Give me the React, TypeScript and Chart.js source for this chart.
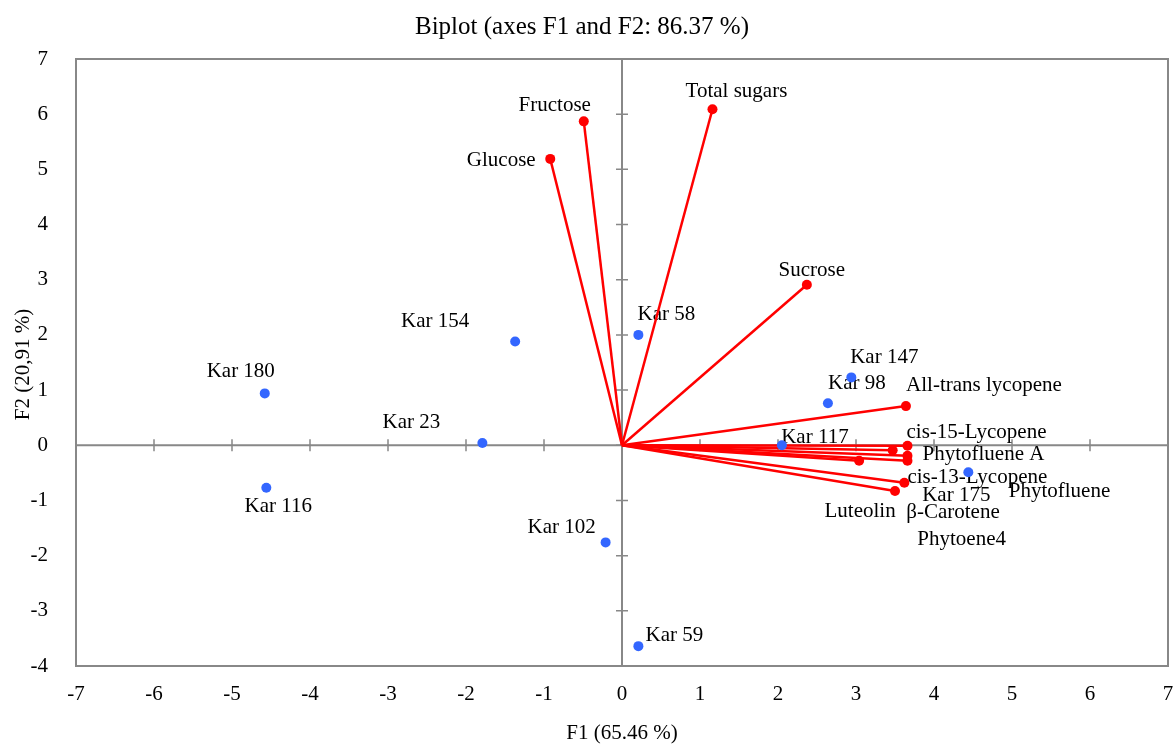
import React, { useEffect, useRef } from 'react';
import { Chart, registerables } from 'chart.js';

Chart.register(...registerables);

// Observations (blue points)
const obsNames = ['Kar 180', 'Kar 116', 'Kar 154', 'Kar 23', 'Kar 58', 'Kar 102', 'Kar 59', 'Kar 147', 'Kar 98', 'Kar 117', 'Kar 175'];
const obsF1 = [-4.58, -4.56, -1.37, -1.79, 0.21, -0.21, 0.21, 2.94, 2.64, 2.05, 4.44];
const obsF2 = [0.94, -0.77, 1.88, 0.04, 2.0, -1.76, -3.64, 1.23, 0.76, 0.0, -0.49];

// Variables (red vectors)
const varNames = ['Glucose', 'Fructose', 'Total sugars', 'Sucrose', 'All-trans lycopene', 'cis-15-Lycopene', 'Phytofluene A', 'Phytofluene', 'Phytoene4', 'Luteolin', 'cis-13-Lycopene', 'β-Carotene'];
const varF1 = [-0.92, -0.49, 1.16, 2.37, 3.64, 3.66, 3.66, 3.66, 3.47, 3.04, 3.62, 3.5];
const varF2 = [5.19, 5.87, 6.09, 2.91, 0.71, -0.01, -0.19, -0.28, -0.09, -0.28, -0.68, -0.83];

// Axis ticks
const xTickValues = [-7, -6, -5, -4, -3, -2, -1, 0, 1, 2, 3, 4, 5, 6, 7];
const yTickValues = [-4, -3, -2, -1, 0, 1, 2, 3, 4, 5, 6, 7];

const titleText = 'Biplot (axes F1 and F2: 86.37 %)';
const xTitle = 'F1 (65.46 %)';
const yTitle = 'F2 (20,91 %)';

// label placement (pixel offsets from the mark, layout only)
const obsLabelOffsets = [[-24, -24], [12, 17], [-80, -22], [-71, -23], [28, -22], [-44, -17], [36, -13], [33, -22], [29, -22], [33, -10], [-12, 21]];
const varLabelOffsets = [[-49, 0], [-29, -18], [24, -20], [5, -16], [78, -23], [69, -15], [76, -3], [152, 29], [69, 87], [1, 49], [73, -7], [58, 19]];
const LABEL_SHIFT_Y = 2;

const FONT = '"Liberation Serif", "Times New Roman", serif';
const GREY = '#888888';
const RED = '#ff0000';
const BLUE = '#3366ff';

export default function App() {
  const ref = useRef<HTMLCanvasElement | null>(null);

  useEffect(() => {
    document.body.style.margin = '0';
    const canvas = ref.current;
    if (!canvas) return;

    const vectorDatasets = varNames.map((name, i) => ({
      type: 'scatter' as const,
      label: name,
      data: [{ x: 0, y: 0 }, { x: varF1[i], y: varF2[i] }],
      showLine: true,
      borderColor: RED,
      borderWidth: 2.5,
      backgroundColor: RED,
      pointBackgroundColor: RED,
      pointBorderWidth: 0,
      pointRadius: (ctx: any) => (ctx.dataIndex === 0 ? 0 : 5),
      order: 2,
    }));

    const obsDataset = {
      type: 'scatter' as const,
      label: 'Observations',
      data: obsF1.map((x, i) => ({ x, y: obsF2[i] })),
      backgroundColor: BLUE,
      pointBackgroundColor: BLUE,
      pointBorderWidth: 0,
      pointRadius: 5,
      showLine: false,
      order: 1,
    };

    const decor = {
      id: 'biplotDecor',
      beforeDatasetsDraw(chart: any) {
        const { ctx, chartArea: a, scales } = chart;
        const xs = scales.x;
        const ys = scales.y;
        ctx.save();
        ctx.strokeStyle = GREY;
        ctx.lineWidth = 2;
        // frame
        ctx.strokeRect(a.left, a.top, a.right - a.left, a.bottom - a.top);
        // zero lines
        const x0 = xs.getPixelForValue(0);
        const y0 = ys.getPixelForValue(0);
        ctx.beginPath();
        ctx.moveTo(a.left, y0);
        ctx.lineTo(a.right, y0);
        ctx.moveTo(x0, a.top);
        ctx.lineTo(x0, a.bottom);
        ctx.stroke();
        // tick marks on zero lines
        ctx.lineWidth = 1.5;
        ctx.beginPath();
        xTickValues.forEach((v) => {
          const px = xs.getPixelForValue(v);
          ctx.moveTo(px, y0 - 6);
          ctx.lineTo(px, y0 + 6);
        });
        yTickValues.forEach((v) => {
          const py = ys.getPixelForValue(v);
          ctx.moveTo(x0 - 6, py);
          ctx.lineTo(x0 + 6, py);
        });
        ctx.stroke();

        // labels
        ctx.fillStyle = '#000';
        ctx.font = `21px ${FONT}`;
        ctx.textAlign = 'center';
        ctx.textBaseline = 'middle';
        varNames.forEach((name, i) => {
          const px = xs.getPixelForValue(varF1[i]) + varLabelOffsets[i][0];
          const py = ys.getPixelForValue(varF2[i]) + varLabelOffsets[i][1] + LABEL_SHIFT_Y;
          ctx.fillText(name, px, py);
        });
        obsNames.forEach((name, i) => {
          const px = xs.getPixelForValue(obsF1[i]) + obsLabelOffsets[i][0];
          const py = ys.getPixelForValue(obsF2[i]) + obsLabelOffsets[i][1] + LABEL_SHIFT_Y;
          ctx.fillText(name, px, py);
        });
        ctx.restore();
      },
      afterDraw(chart: any) {
        const { ctx, chartArea: a } = chart;
        ctx.save();
        ctx.fillStyle = '#000';
        ctx.textAlign = 'center';
        ctx.textBaseline = 'middle';
        ctx.font = `25px ${FONT}`;
        ctx.fillText(titleText, 582, 27);
        ctx.font = `21px ${FONT}`;
        ctx.fillText(xTitle, (a.left + a.right) / 2, 733);
        ctx.translate(23, (a.top + a.bottom) / 2 + 2);
        ctx.rotate(-Math.PI / 2);
        ctx.fillText(yTitle, 0, 0);
        ctx.restore();
      },
    };

    const chart = new Chart(canvas, {
      type: 'scatter',
      data: { datasets: [obsDataset, ...vectorDatasets] as any },
      options: {
        responsive: false,
        animation: false,
        layout: { padding: { top: 59, right: 7, left: 0, bottom: 0 } },
        plugins: {
          legend: { display: false },
          title: { display: false },
          tooltip: { enabled: false },
        },
        scales: {
          x: {
            type: 'linear',
            min: -7,
            max: 7,
            afterFit: (s: any) => { s.height = 78; s.paddingLeft = 0; s.paddingRight = 0; },
            afterBuildTicks: (s: any) => { s.ticks = xTickValues.map((v) => ({ value: v })); },
            grid: { display: false, drawTicks: false },
            border: { display: false },
            ticks: {
              autoSkip: false,
              maxRotation: 0,
              padding: 16,
              color: '#000',
              font: { family: FONT, size: 21 },
            },
          },
          y: {
            type: 'linear',
            min: -4,
            max: 7,
            afterFit: (s: any) => { s.width = 76; s.paddingTop = 0; s.paddingBottom = 0; },
            afterBuildTicks: (s: any) => { s.ticks = yTickValues.map((v) => ({ value: v })); },
            grid: { display: false, drawTicks: false },
            border: { display: false },
            ticks: {
              autoSkip: false,
              padding: 28,
              color: '#000',
              font: { family: FONT, size: 21 },
            },
          },
        },
      } as any,
      plugins: [decor],
    });

    return () => chart.destroy();
  }, []);

  return (
    <div style={{ position: 'absolute', left: 0, top: 0, width: 1175, height: 744 }}>
      <canvas ref={ref} width={1175} height={744} />
    </div>
  );
}
